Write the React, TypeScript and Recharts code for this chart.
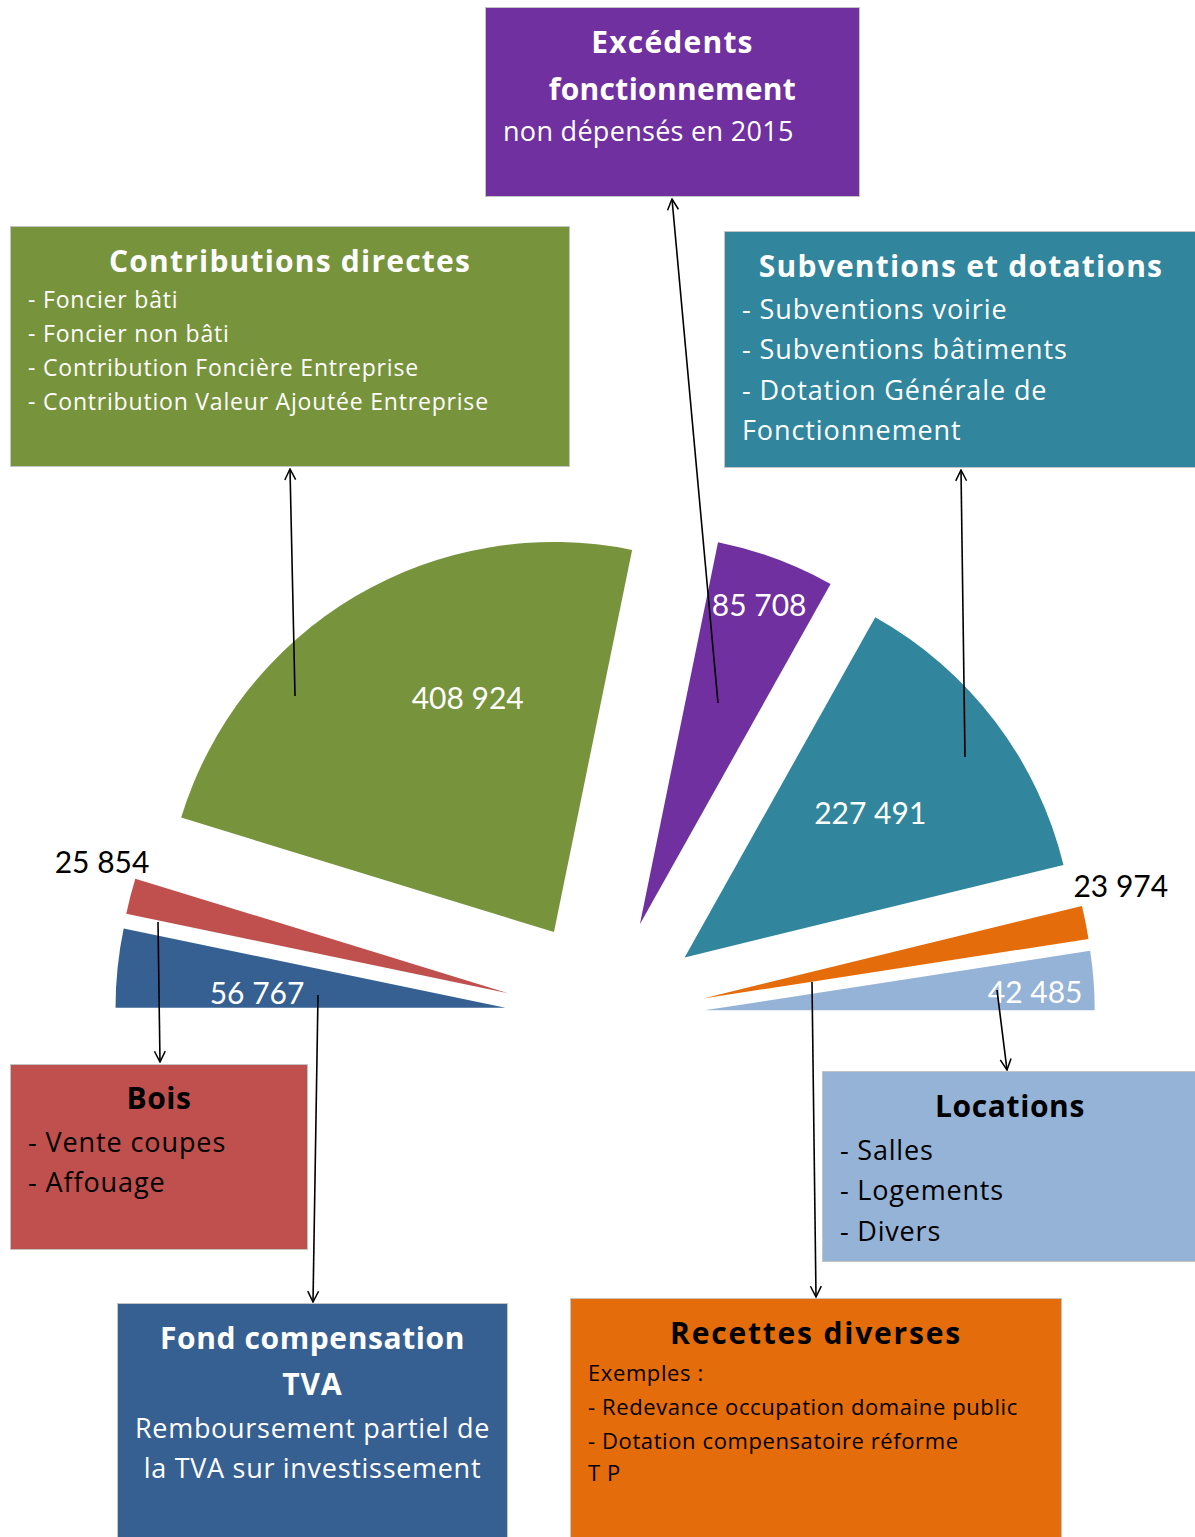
import { PieChart, Pie, Cell, Sector } from 'recharts';

// half pie, exploded slices, boxes + arrows as annotations
const categories = [
  'Fond compensation TVA',
  'Bois',
  'Contributions directes',
  'Excédents fonctionnement',
  'Subventions et dotations',
  'Recettes diverses',
  'Locations',
];
const values = [56767, 25854, 408924, 85708, 227491, 23974, 42485];
const colors = ['#376092', '#C0504D', '#77933C', '#7030A0', '#31859C', '#E46C0A', '#95B3D7'];

// label placement tweaks (radius from exploded centre, angle shift in degrees)
const LABEL_R = [249, 427, 250, 342, 236, 433, 331];
const LABEL_SHIFT = [2.3, -3.6, -10.5, 0, 0.9, 4, -1.1];
const LABEL_DARK = [false, true, false, false, false, true, false];

const RADIAN = Math.PI / 180;
const EXPLODE = 100;
const NUM_FONT = "Lato, 'Open Sans', sans-serif";
const BOX_FONT = "'Comic Sans MS', 'Open Sans', sans-serif";

const data = categories.map((name, i) => ({ name, value: values[i] }));

const fmt = (v: number) => String(v).replace(/\B(?=(\d{3})+(?!\d))/g, ' ');

const ExplodedSector = (props: any) => {
  const { cx, cy, midAngle, innerRadius, outerRadius, startAngle, endAngle, fill } = props;
  const dx = EXPLODE * Math.cos(-midAngle * RADIAN);
  const dy = EXPLODE * Math.sin(-midAngle * RADIAN);
  return (
    <Sector
      cx={cx + dx}
      cy={cy + dy}
      innerRadius={innerRadius}
      outerRadius={outerRadius}
      startAngle={startAngle}
      endAngle={endAngle}
      fill={fill}
      stroke="none"
    />
  );
};

const renderLabel = (props: any) => {
  const { cx, cy, midAngle, index, value } = props;
  const ox = cx + EXPLODE * Math.cos(-midAngle * RADIAN);
  const oy = cy + EXPLODE * Math.sin(-midAngle * RADIAN);
  const a = (midAngle + LABEL_SHIFT[index]) * RADIAN;
  const x = ox + LABEL_R[index] * Math.cos(-a);
  const y = oy + LABEL_R[index] * Math.sin(-a);
  return (
    <text
      x={x}
      y={y}
      textAnchor="middle"
      dominantBaseline="central"
      fill={LABEL_DARK[index] ? '#000' : '#fff'}
      fontFamily={NUM_FONT}
      fontSize={30}
    >
      {fmt(value)}
    </text>
  );
};

type Line = { t: string; y: number; x?: number; bold?: boolean; size: number; ls?: number };

const boxes: { left: number; top: number; w: number; h: number; bg: string; color: string; lines: Line[] }[] = [
  {
    left: 485, top: 7, w: 375, h: 190, bg: '#7030A0', color: '#fff',
    lines: [
      { t: 'Excédents', y: 42, bold: true, size: 30, ls: 1.2 },
      { t: 'fonctionnement', y: 89, bold: true, size: 30, ls: 0.3 },
      { t: 'non dépensés en 2015', y: 131, x: 503, size: 27, ls: 0.3 },
    ],
  },
  {
    left: 10, top: 226, w: 560, h: 241, bg: '#77933C', color: '#fff',
    lines: [
      { t: 'Contributions directes', y: 261, bold: true, size: 30, ls: 1.2 },
      { t: '- Foncier bâti', y: 299, x: 28, size: 23, ls: 0.8 },
      { t: '- Foncier non bâti', y: 333, x: 28, size: 23, ls: 0.8 },
      { t: '- Contribution Foncière Entreprise', y: 367, x: 28, size: 23, ls: 0.8 },
      { t: '- Contribution Valeur Ajoutée Entreprise', y: 401, x: 28, size: 23, ls: 0.8 },
    ],
  },
  {
    left: 724, top: 231, w: 474, h: 237, bg: '#31859C', color: '#fff',
    lines: [
      { t: 'Subventions et dotations', y: 266, bold: true, size: 30, ls: 1.2 },
      { t: '- Subventions voirie', y: 309, x: 742, size: 27, ls: 0.9 },
      { t: '- Subventions bâtiments', y: 349, x: 742, size: 27, ls: 0.9 },
      { t: '- Dotation Générale de', y: 390, x: 742, size: 27, ls: 0.9 },
      { t: 'Fonctionnement', y: 430, x: 742, size: 27, ls: 0.9 },
    ],
  },
  {
    left: 10, top: 1064, w: 298, h: 186, bg: '#C0504D', color: '#000',
    lines: [
      { t: 'Bois', y: 1098, bold: true, size: 30, ls: 0.5 },
      { t: '- Vente coupes', y: 1142, x: 28, size: 27, ls: 0.9 },
      { t: '- Affouage', y: 1182, x: 28, size: 27, ls: 0.9 },
    ],
  },
  {
    left: 822, top: 1071, w: 376, h: 191, bg: '#95B3D7', color: '#000',
    lines: [
      { t: 'Locations', y: 1106, bold: true, size: 30, ls: 0.6 },
      { t: '- Salles', y: 1150, x: 840, size: 27, ls: 0.8 },
      { t: '- Logements', y: 1190, x: 840, size: 27, ls: 0.8 },
      { t: '- Divers', y: 1231, x: 840, size: 27, ls: 0.8 },
    ],
  },
  {
    left: 117, top: 1303, w: 391, h: 250, bg: '#376092', color: '#fff',
    lines: [
      { t: 'Fond compensation', y: 1338, bold: true, size: 30, ls: 0.6 },
      { t: 'TVA', y: 1384, bold: true, size: 30, ls: 1 },
      { t: 'Remboursement partiel de', y: 1428, size: 27, ls: 0.7 },
      { t: 'la TVA sur investissement', y: 1468, size: 27, ls: 0.7 },
    ],
  },
  {
    left: 570, top: 1298, w: 492, h: 255, bg: '#E46C0A', color: '#000',
    lines: [
      { t: 'Recettes diverses', y: 1333, bold: true, size: 30, ls: 1.8 },
      { t: 'Exemples :', y: 1372, x: 588, size: 22, ls: 0.6 },
      { t: '- Redevance occupation domaine public', y: 1406, x: 588, size: 22, ls: 0.6 },
      { t: '- Dotation compensatoire réforme', y: 1440, x: 588, size: 22, ls: 0.6 },
      { t: 'T P', y: 1472, x: 588, size: 22, ls: 0.6 },
    ],
  },
];

const arrows = [
  [718, 703, 672, 199],
  [295, 696, 290, 469],
  [965, 757, 961, 470],
  [158, 922, 160, 1062],
  [318, 995, 313, 1302],
  [812, 982, 816, 1297],
  [997, 990, 1007, 1070],
];

export default function App() {
  return (
    <div
      style={{
        position: 'absolute',
        left: 0,
        top: 0,
        width: 1195,
        height: 1537,
        overflow: 'hidden',
        background: '#fff',
      }}
    >
      <div style={{ position: 'absolute', left: 0, top: 0 }}>
        <PieChart width={1195} height={1537}>
          <Pie
            data={data}
            dataKey="value"
            nameKey="name"
            cx={600}
            cy={1013}
            startAngle={180}
            endAngle={0}
            innerRadius={0}
            outerRadius={390}
            stroke="none"
            shape={ExplodedSector}
            label={renderLabel}
            labelLine={false}
            isAnimationActive={false}
          >
            {data.map((d, i) => (
              <Cell key={d.name} fill={colors[i]} />
            ))}
          </Pie>
        </PieChart>
      </div>

      {boxes.map((b, bi) => (
        <div
          key={bi}
          style={{
            position: 'absolute',
            left: b.left,
            top: b.top,
            width: b.w,
            height: b.h,
            background: b.bg,
            border: '1.5px solid #c4c4c4',
            boxSizing: 'border-box',
          }}
        />
      ))}
      {boxes.flatMap((b, bi) =>
        b.lines.map((l, li) => (
          <div
            key={`${bi}-${li}`}
            style={{
              position: 'absolute',
              left: l.x ?? b.left,
              width: l.x != null ? undefined : b.w,
              top: l.y - l.size * 0.7,
              height: l.size * 1.4,
              lineHeight: `${l.size * 1.4}px`,
              fontSize: l.size,
              fontWeight: l.bold ? 700 : 400,
              fontFamily: BOX_FONT,
              letterSpacing: l.ls ?? 0,
              color: b.color,
              textAlign: l.x != null ? 'left' : 'center',
              whiteSpace: 'nowrap',
            }}
          >
            {l.t}
          </div>
        ))
      )}

      <svg
        width={1195}
        height={1537}
        style={{ position: 'absolute', left: 0, top: 0, pointerEvents: 'none' }}
      >
        <defs>
          <marker
            id="arr"
            viewBox="0 0 12 12"
            refX="11"
            refY="6"
            markerWidth="13"
            markerHeight="13"
            markerUnits="userSpaceOnUse"
            orient="auto"
          >
            <path d="M1,1 L11,6 L1,11" fill="none" stroke="#000" strokeWidth={1.4} />
          </marker>
        </defs>
        {arrows.map(([x1, y1, x2, y2], i) => (
          <line
            key={i}
            x1={x1}
            y1={y1}
            x2={x2}
            y2={y2}
            stroke="#000"
            strokeWidth={1.6}
            markerEnd="url(#arr)"
          />
        ))}
      </svg>
    </div>
  );
}
